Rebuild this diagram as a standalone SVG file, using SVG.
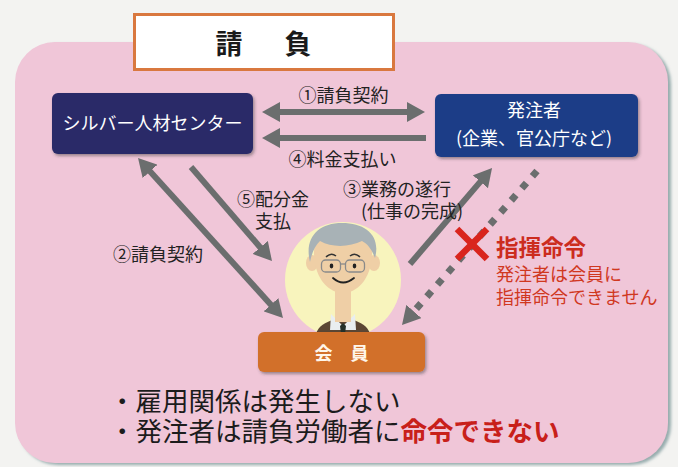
<svg xmlns="http://www.w3.org/2000/svg" width="678" height="467" viewBox="0 0 678 467">
  <defs>
    <style>
      .jp { font-family: "Noto Sans CJK JP", "Noto Sans", sans-serif; }
      .lbl { font-size: 18px; fill: #222; }
      .nodeText { fill: #ffffff; font-size: 18px; }
      .shaft { stroke: #6b6e6e; stroke-width: 6; fill: none; }
      .dotted { stroke: #6b6e6e; stroke-width: 7; fill: none; stroke-dasharray: 7 9; }
      .red { fill: #cc2c1e; }
    </style>
    <marker id="head" viewBox="0 0 18 20" markerWidth="18" markerHeight="20" refX="7" refY="10" orient="auto-start-reverse" markerUnits="userSpaceOnUse">
      <path d="M0,0 L18,10 L0,20 Z" fill="#6b6e6e"/>
    </marker>
    <filter id="panelShadow" x="-5%" y="-5%" width="110%" height="110%">
      <feDropShadow dx="3" dy="2" stdDeviation="1.5" flood-color="#6f8f92" flood-opacity="0.7"/>
    </filter>
    <filter id="boxShadow" x="-10%" y="-10%" width="120%" height="130%">
      <feDropShadow dx="1.5" dy="2" stdDeviation="1.5" flood-color="#333" flood-opacity="0.45"/>
    </filter>
  </defs>

  <!-- page background -->
  <rect x="0" y="0" width="678" height="467" fill="#f3f3f1"/>

  <!-- pink panel -->
  <rect x="15" y="42" width="653" height="421" rx="40" fill="#f0c6d8" filter="url(#panelShadow)"/>

  <!-- title -->
  <g id="title">
    <rect x="134.5" y="14.5" width="259" height="55" fill="#ffffff" stroke="#d9783f" stroke-width="3"/>
    <text class="jp" x="215.5" y="54" font-size="27" font-weight="bold" letter-spacing="7.5" fill="#1a1a1a">請　負</text>
  </g>

  <!-- connectors -->
  <g id="connectors">
    <line class="shaft" x1="273" y1="112" x2="414" y2="112" marker-start="url(#head)" marker-end="url(#head)"/>
    <line class="shaft" x1="426" y1="138" x2="273" y2="138" marker-end="url(#head)"/>
    <line class="shaft" x1="145.4" y1="166.2" x2="275.6" y2="309.9" marker-start="url(#head)" marker-end="url(#head)"/>
    <line class="shaft" x1="191" y1="167" x2="264.8" y2="252.7" marker-end="url(#head)"/>
    <line class="shaft" x1="410" y1="264" x2="484.9" y2="176.4" marker-end="url(#head)"/>
    <line class="dotted" x1="537" y1="171" x2="409.25" y2="316.7" marker-end="url(#head)"/>

    <text class="jp lbl" x="343.5" y="102" text-anchor="middle">①請負契約</text>
    <text class="jp lbl" x="342.5" y="166" text-anchor="middle">④料金支払い</text>
    <text class="jp lbl" x="237" y="206">⑤配分金</text>
    <text class="jp lbl" x="255" y="228">支払</text>
    <text class="jp lbl" x="113" y="261">②請負契約</text>
    <text class="jp lbl" x="343" y="196">③業務の遂行</text>
    <text class="jp lbl" x="361" y="218">(仕事の完成)</text>
  </g>

  <!-- forbidden instruction mark -->
  <g id="no-command">
    <line x1="457" y1="229" x2="487" y2="259" stroke="#d9251d" stroke-width="6.5"/>
    <line x1="487" y1="229" x2="457" y2="259" stroke="#d9251d" stroke-width="6.5"/>
    <text class="jp red" x="496" y="256" font-size="22.5" font-weight="bold">指揮命令</text>
    <text class="jp" x="496" y="281" font-size="18" fill="#d0381f">発注者は会員に</text>
    <text class="jp" x="496" y="304" font-size="18" fill="#d0381f">指揮命令できません</text>
  </g>

  <!-- nodes -->
  <g id="silver-center">
    <rect x="52" y="93" width="201" height="61" rx="6" fill="#2b2a68" filter="url(#boxShadow)"/>
    <text class="jp nodeText" x="152.5" y="130" text-anchor="middle">シルバー人材センター</text>
  </g>

  <g id="client">
    <rect x="435" y="94" width="203" height="63" rx="6" fill="#1f3e87" filter="url(#boxShadow)"/>
    <text class="jp nodeText" x="534" y="117" text-anchor="middle" font-size="17">発注者</text>
    <text class="jp nodeText" x="534" y="145" text-anchor="middle" font-size="17">(企業、官公庁など)</text>
  </g>

  <!-- member portrait -->
  <g id="member-portrait">
    <circle cx="343" cy="280" r="58" fill="#f8f4bd"/>
    <!-- jacket and collar -->
    <path d="M316,334 C318,326 326,322 333,320 L353,320 C360,322 368,326 370,334 Z" fill="#5b4634"/>
    <path d="M331,314 L343,326 L355,314 L356,330 L330,330 Z" fill="#e9eef0"/>
    <path d="M340,326 L343,323 L346,326 L345,334 L341,334 Z" fill="#24302a"/>
    <!-- neck -->
    <rect x="335" y="282" width="16" height="40" fill="#efcfa6"/>
    <!-- ears -->
    <ellipse cx="312" cy="263" rx="6" ry="8" fill="#efcfa6"/>
    <ellipse cx="374" cy="263" rx="6" ry="8" fill="#efcfa6"/>
    <!-- face -->
    <path d="M314,252 C314,280 330,293 343,293 C356,293 372,280 372,252 C372,234 358,229 343,229 C328,229 314,234 314,252 Z" fill="#efcfa6"/>
    <!-- hair -->
    <path d="M310,262 C304,238 318,223 342,223 C366,223 381,236 375,258 C372,250 368,244 362,241 C350,247 332,248 320,241 C315,246 312,252 310,262 Z" fill="#a8b2b6"/>
    <!-- brows -->
    <path d="M326,257 Q331,252 336,256" stroke="#333" stroke-width="1.5" fill="none"/>
    <path d="M350,256 Q355,252 360,257" stroke="#333" stroke-width="1.5" fill="none"/>
    <!-- glasses -->
    <rect x="321.5" y="260" width="19" height="12" rx="4" fill="none" stroke="#8a8a8a" stroke-width="1.3"/>
    <rect x="345.5" y="260" width="19" height="12" rx="4" fill="none" stroke="#8a8a8a" stroke-width="1.3"/>
    <line x1="340.5" y1="264" x2="345.5" y2="264" stroke="#8a8a8a" stroke-width="1.3"/>
    <!-- eyes -->
    <ellipse cx="331.5" cy="266" rx="1.8" ry="2.4" fill="#222"/>
    <ellipse cx="354.5" cy="266" rx="1.8" ry="2.4" fill="#222"/>
    <!-- smile -->
    <path d="M333,278 Q343,287 354,278" stroke="#222" stroke-width="1.8" fill="none" stroke-linecap="round"/>
  </g>

  <g id="member">
    <rect x="258" y="332" width="167" height="40" rx="6" fill="#d2702c" filter="url(#boxShadow)"/>
    <text class="jp" x="314.5" y="360" font-size="18" font-weight="bold" fill="#fff6ea">会　員</text>
  </g>

  <!-- notes -->
  <g id="notes">
    <text class="jp" x="109" y="411" font-size="26.5" fill="#1c1c1c">・雇用関係は発生しない</text>
    <text class="jp" x="109" y="441" font-size="26.5" fill="#1c1c1c">・発注者は請負労働者に<tspan fill="#c8201a" font-weight="bold">命令できない</tspan></text>
  </g>
</svg>
